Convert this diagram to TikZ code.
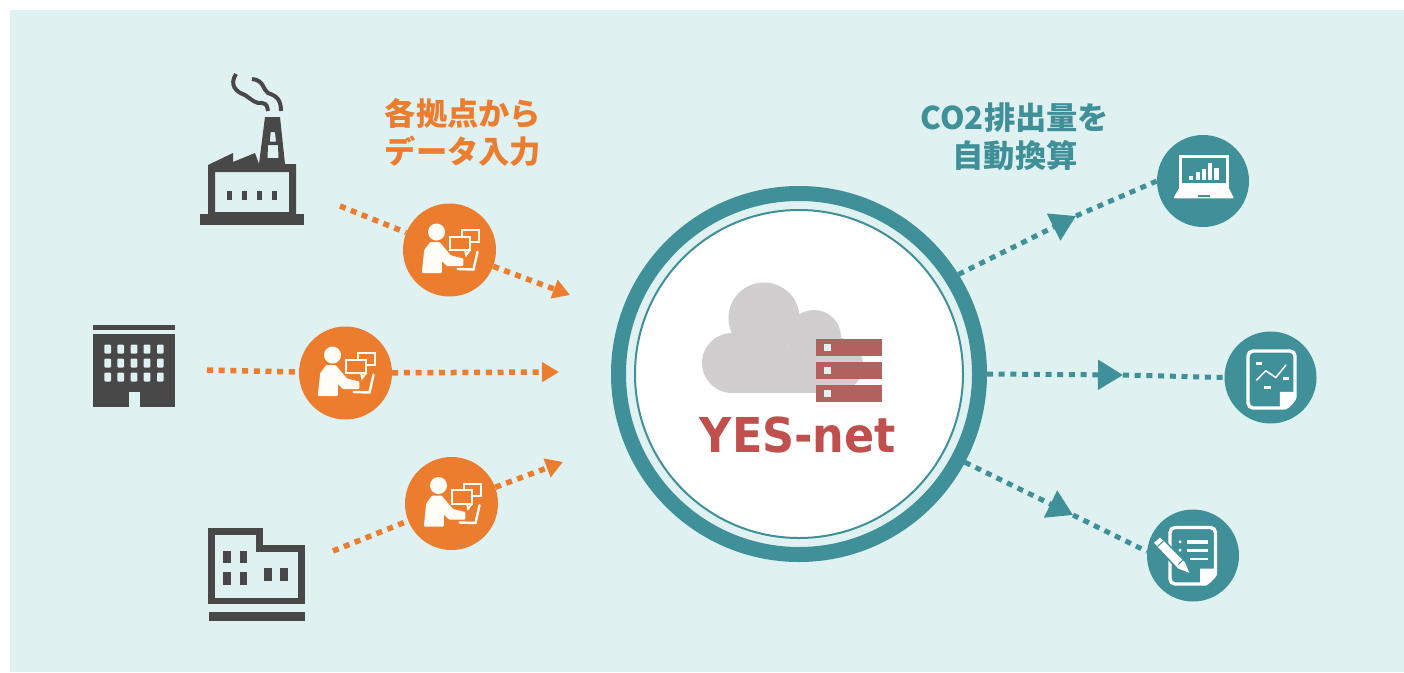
\documentclass[tikz,border=0pt]{standalone}
\usepackage{fontspec}
\setmainfont{DejaVu Sans}
\newfontfamily\cjkfont{Noto Sans CJK JP}
\usetikzlibrary{arrows.meta}
\definecolor{paleback}{HTML}{DFF1F1}
\definecolor{tealline}{HTML}{409099}
\definecolor{orangeline}{HTML}{ED7D2E}
\definecolor{darkicon}{HTML}{484848}
\definecolor{redlabel}{HTML}{C0504D}
\definecolor{serverred}{HTML}{B3615F}
\definecolor{cloudgray}{HTML}{D0CECE}
\definecolor{creamy}{HTML}{FFFDF5}
\tikzset{
	staffdisc/.style={circle, fill=orangeline, minimum size=93pt, inner sep=0pt},
	tooldisc/.style={circle, fill=tealline, minimum size=92pt, inner sep=0pt},
	orangedots/.style={line width=5.5pt, color=orangeline, dash pattern=on 6pt off 5.7pt},
	tealdots/.style={line width=5pt, color=tealline, dash pattern=on 6pt off 5.7pt},
	bigtip/.style={-{Triangle[length=25pt,width=29pt]}},
	smalltip/.style={-{Triangle[length=17pt,width=19pt]}},
	headline/.style={font=\cjkfont\bfseries\fontsize{31.3}{38}\selectfont, align=center}
}
\def\staffmark(#1){
	\begin{scope}[shift={(#1)}, color=creamy]
		\fill (-13, -18) circle (8.5);
		\fill[rounded corners=1pt] (-27.7, 23) -- (-25.3, 0) -- (-19.3, -8) -- (-10, -8) -- (1.5, 5.5) -- (13.8, 8.5) -- (14, 16) -- (-2.7, 16) -- (-7.7, 11) -- (-7.7, 23) -- cycle;
		\draw[line width=2pt] (0.5, -13.3) rectangle (20.5, 0);
		\draw[line width=2pt] (15.5, 0) -- (16.7, 5) -- (20.5, 0);
		\draw[line width=2pt] (12, -13.3) -- (12, -20) -- (29.8, -20) -- (29.8, -7.7) -- (20.5, -7.7);
		\draw[line width=2.4pt, line cap=round] (28, 1.7) -- (24, 19.5) -- (8, 19);
	\end{scope}
}
\begin{document}
\begin{tikzpicture}[x=1pt, y=-1pt]
		%%%%% BACK %%%%%
		\useasboundingbox (0, 0) rectangle (1404, 672);
		\fill[white] (0, 0) rectangle (1404, 672);
		\fill[paleback] (10, 10) rectangle (1404, 672);
		
		%%%%% FACTORY %%%%%
		\fill[darkicon] (200, 214) rectangle (304, 225);
		\fill[darkicon, even odd rule] (208, 214) -- (208, 165) -- (233, 153) -- (233, 162) -- (255, 153) -- (259, 164) -- (265, 117) -- (280, 117) -- (285, 164) -- (296, 164) -- (296, 214) -- cycle (215, 172) rectangle (289, 212) (270.7, 132) -- (275, 132) -- (276, 141.7) -- (269.7, 141.7) -- cycle (268, 145) -- (278, 145) -- (278.5, 158) -- (267.5, 158) -- cycle;
		\fill[darkicon] (227, 191) rectangle (231.5, 200);
		\fill[darkicon] (242, 191) rectangle (246.5, 200);
		\fill[darkicon] (257, 191) rectangle (261.5, 200);
		\fill[darkicon] (272, 191) rectangle (276.5, 200);
		\draw[darkicon, line width=4pt] (236, 74) .. controls (229, 85) and (236, 92) .. (245, 95) .. controls (252, 100) and (256, 104) .. (262, 103) .. controls (267, 104) and (267, 106) .. (268, 111);
		\draw[darkicon, line width=4pt] (252, 79) .. controls (264, 80) and (263, 90) .. (268, 93) .. controls (277, 96) and (281, 100) .. (281, 111);
		
		%%%%% OFFICE %%%%%
		\fill[darkicon] (93, 324.5) rectangle (175, 329.5);
		\fill[darkicon] (93, 334) rectangle (175, 407);
		\fill[paleback] (128.5, 392) rectangle (140, 407);
		\foreach \winx in {107.7, 120.7, 134, 147, 160.3}
			\foreach \winy in {349, 363, 377}
				\fill[paleback, rounded corners=1pt] (\winx-3.3, \winy-4.5) rectangle (\winx+3.3, \winy+4.5);
		
		%%%%% PLANT %%%%%
		\draw[darkicon, line width=6.6pt] (211.7, 531.7) -- (259.3, 531.7) -- (259.3, 548.3) -- (301.7, 548.3) -- (301.7, 601) -- (211.7, 601) -- cycle;
		\fill[darkicon] (209.3, 612.3) rectangle (305, 620.7);
		\fill[darkicon] (223.3, 550.7) rectangle (230.7, 563.3);
		\fill[darkicon] (240, 550.7) rectangle (247.3, 563.3);
		\fill[darkicon] (223.3, 571.7) rectangle (230.7, 585);
		\fill[darkicon] (240, 571.7) rectangle (247.3, 585);
		\fill[darkicon] (264.3, 567.7) rectangle (272, 580.7);
		\fill[darkicon] (280.3, 567.7) rectangle (288, 580.7);
		
		%%%%% HUB %%%%%
		\node[circle, draw=tealline, line width=15pt, minimum size=361pt, inner sep=0pt] (hub) at (799, 374) {};
		\node[circle, draw=tealline, fill=white, line width=2pt, minimum size=328pt, inner sep=0pt] (hubcore) at (hub) {};
		
		\fill[cloudgray] (764, 318) circle (35.5);
		\fill[cloudgray] (732, 363) circle (30);
		\fill[cloudgray] (814, 337) circle (27);
		\fill[cloudgray] (835, 365) circle (28);
		\fill[cloudgray] (732, 345) rectangle (835, 393);
		
		\fill[serverred] (816, 339) rectangle (882, 356);
		\fill[serverred] (816, 362) rectangle (882, 379);
		\fill[serverred] (816, 385) rectangle (882, 402);
		\fill[paleback] (823.5, 344) rectangle (830.5, 351);
		\fill[paleback] (823.5, 367) rectangle (830.5, 374);
		\fill[paleback] (823.5, 390) rectangle (830.5, 397);
		
		\node[font=\bfseries\fontsize{44.5}{52}\selectfont, color=redlabel] (hublabel) at (798, 435) {\scalebox{1}[1.08]{YES-net}};
		
		%%%%% LEFT SIDE %%%%%
		\node[headline, color=orangeline] (inputlabel) at (463, 133) {各拠点から\\データ入力};
		
		\node[staffdisc] (staffA) at (449.5, 250) {};
		\node[staffdisc] (staffB) at (345.5, 373) {};
		\node[staffdisc] (staffC) at (451.5, 503.5) {};
		\staffmark(staffA)
		\staffmark(staffB)
		\staffmark(staffC)
		
		\coordinate (factoryout) at (340, 206);
		\coordinate (officeout) at (207, 370);
		\coordinate (plantout) at (333, 551);
		\coordinate (hubinA) at (570, 295);
		\coordinate (hubinB) at (559, 372);
		\coordinate (hubinC) at (563, 462);
		
		\draw[orangedots] (factoryout) -- (staffA);
		\draw[orangedots, smalltip] (staffA) -- (hubinA);
		\draw[orangedots] (officeout) -- (staffB);
		\draw[orangedots, smalltip] (staffB) -- (hubinB);
		\draw[orangedots] (plantout) -- (staffC);
		\draw[orangedots, smalltip] (staffC) -- (hubinC);
		
		%%%%% RIGHT SIDE %%%%%
		\node[headline, color=tealline] (convertlabel) at (1015, 137) {CO2排出量を\\自動換算};
		
		\node[tooldisc] (laptop) at (1203, 181) {};
		\node[tooldisc] (report) at (1270.5, 377.5) {};
		\node[tooldisc] (notepad) at (1193, 555.5) {};
		
		\coordinate (tipA) at (1076, 216);
		\coordinate (tipB) at (1123, 375);
		\coordinate (tipC) at (1073, 515);
		
		\draw[tealdots, bigtip] (hub.32) -- (tipA);
		\draw[tealdots] (tipA) -- (laptop.west);
		\draw[tealdots, bigtip] (hub.0) -- (tipB);
		\draw[tealdots] (tipB) -- (report.west);
		\draw[tealdots, bigtip] (hub.-28) -- (tipC);
		\draw[tealdots] (tipC) -- (notepad.175);
		
		\begin{scope}[shift={(laptop)}]
			\fill[white] (-24, -26) rectangle (26, 8);
			\fill[tealline] (-20.7, -22.7) rectangle (22.7, 2.3);
			\fill[white, rounded corners=1pt] (-24, 7.3) -- (26, 7.3) -- (31, 17.3) -- (-29.7, 17.3) -- cycle;
			\fill[tealline] (-5.3, 14) rectangle (7, 16.3);
			\fill[white] (-14, -5) rectangle (-9.7, -0.7);
			\fill[white] (-7.3, -8.7) rectangle (-3, -0.7);
			\fill[white] (-1.3, -11.7) rectangle (3, -0.7);
			\fill[white] (5, -17.7) rectangle (9.3, -0.7);
			\fill[white] (11.3, -13.3) rectangle (15.7, -0.7);
		\end{scope}
		
		\begin{scope}[shift={(report)}]
			\draw[white, line width=3.4pt, rounded corners=5pt] (-22.5, -26.5) -- (24.5, -26.5) -- (24.5, 14) .. controls (24.5, 22) and (17, 30.5) .. (9, 30.5) -- (-22.5, 30.5) -- cycle;
			\fill[white] (9.3, 30.5) -- (9.3, 14.3) -- (24.5, 14.3) .. controls (24.5, 22) and (17, 30.5) .. (9.3, 30.5) -- cycle;
			\draw[white, line width=1.5pt, line cap=round] (-14, 2.7) -- (-4.7, -6.7) -- (5.3, 0) -- (15.3, -12.3);
			\fill[white] (-15, -15.3) rectangle (-8.3, -12.3);
			\fill[white] (12, -0.3) rectangle (18.7, 2.7);
			\fill[white] (-6.3, 8.3) rectangle (0.3, 11.3);
		\end{scope}
		
		\begin{scope}[shift={(notepad)}]
			\draw[white, line width=3.4pt, rounded corners=5pt] (-23, -28) -- (22.5, -28) -- (22.5, 13) .. controls (22.5, 20) and (14, 28.5) .. (7, 28.5) -- (-23, 28.5) -- cycle;
			\fill[white] (7, 28.5) -- (7, 13) -- (22.5, 13) .. controls (22.5, 20) and (14, 28.5) .. (7, 28.5) -- cycle;
			\fill[white] (-13, -13.7) circle (1.7);
			\fill[white] (-13, -5.3) circle (1.7);
			\fill[white] (-6.3, -15.3) rectangle (15.3, -12);
			\fill[white] (-6.3, -7) rectangle (15.3, -3.7);
			\fill[white] (-3, 2) rectangle (15.3, 4.7);
			\draw[tealline, line width=3.4pt] (-39, -12.7) -- (-33, -18) -- (-8, 7) -- (-3.7, 17.3) -- (-14.7, 13) -- cycle;
			\fill[white] (-39, -12.7) -- (-33, -18) -- (-8, 7) -- (-3.7, 17.3) -- (-14.7, 13) -- cycle;
			\draw[tealline, line width=1pt] (-35.5, -9) -- (-29.5, -14.5);
			\draw[tealline, line width=1pt] (-14.7, 9) -- (-9, 3.5);
		\end{scope}
		
		%%%%% END %%%%%
	\end{tikzpicture}
\end{document}
